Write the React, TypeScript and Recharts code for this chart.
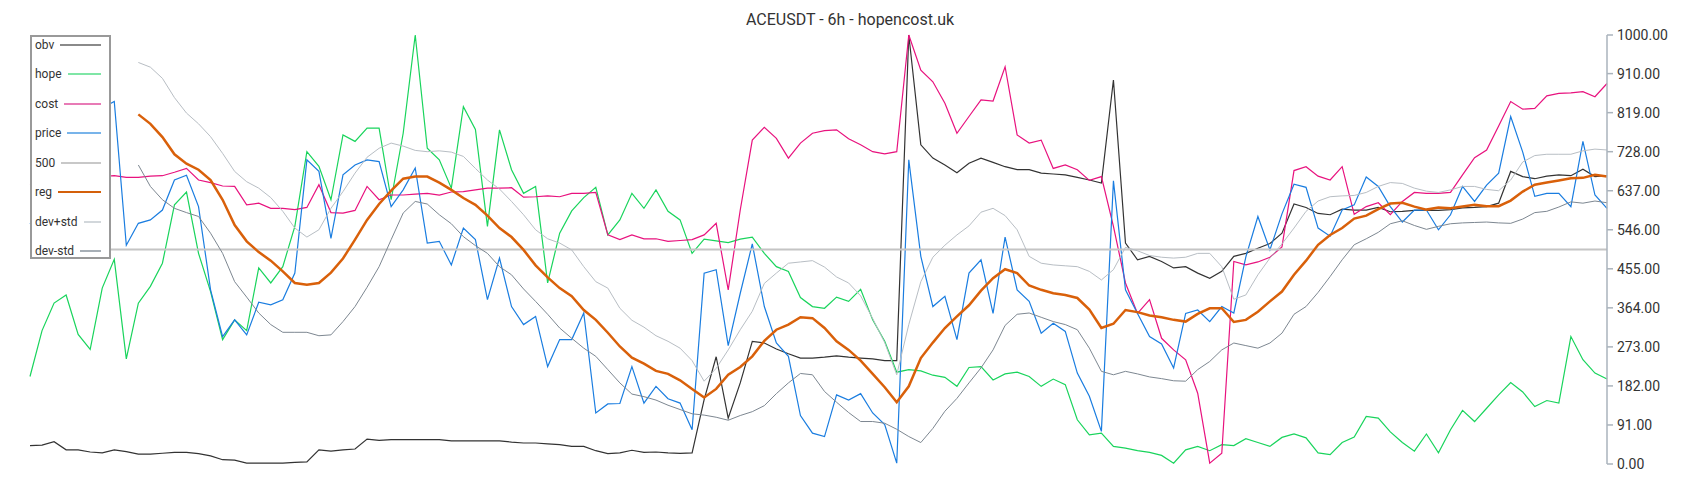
import React from 'react';
import { LineChart, Line, XAxis, YAxis, ReferenceLine } from 'recharts';

const title = 'ACEUSDT - 6h - hopencost.uk';
const yTicks = [0, 91, 182, 273, 364, 455, 546, 637, 728, 819, 910, 1000];
const level500 = 500;

// normalised 0..1000, one value per 6h candle (sampled)
const obv = [
  43, 44, 52, 33, 33, 28, 26, 33, 29, 23, 23, 25, 27, 27, 24, 19, 10,
  9, 2, 2, 2, 2, 4, 5, 33, 30, 33, 35, 58, 55, 57, 57, 57,
  57, 57, 54, 54, 54, 54, 54, 51, 49, 49, 47, 45, 41, 41, 31, 24, 26,
  32, 27, 28, 26, 25, 26, 150, 250, 107, 189, 286, 282, 268, 257, 247, 247,
  249, 252, 249, 247, 245, 241, 241, 1000, 744, 713, 697, 679, 701, 713, 703, 693, 686,
  686, 678, 676, 674, 668, 662, 655, 895, 515, 476, 484, 472, 457, 460, 445, 433, 449,
  484, 491, 503, 514, 538, 606, 598, 584, 581, 594, 592, 592, 598, 588, 589, 591, 592,
  591, 593, 597, 598, 600, 608, 682, 670, 665, 671, 674, 672, 687, 670, 672,
];

const hope = [
  204, 311, 375, 394, 302, 267, 410, 477, 245, 375, 414, 468, 604, 634, 491, 402, 290,
  336, 311, 457, 422, 460, 554, 728, 694, 616, 767, 752, 783, 783, 616, 771, 1000,
  736, 709, 643, 833, 780, 554, 779, 686, 631, 647, 422, 538, 590, 621, 645, 534, 569,
  631, 596, 639, 589, 569, 491, 524, 520, 516, 524, 529, 491, 460, 449, 388, 367,
  363, 389, 379, 407, 336, 286, 214, 220, 217, 207, 202, 181, 225, 227, 196, 210, 214,
  204, 181, 198, 185, 103, 68, 72, 41, 37, 31, 27, 20, 2, 33, 41, 31, 45,
  43, 59, 50, 41, 62, 70, 61, 26, 22, 50, 63, 111, 107, 75, 50, 30, 70,
  26, 80, 125, 99, 130, 161, 190, 168, 134, 148, 142, 297, 243, 212, 198,
];

const cost = [
  650, 655, 660, 662, 665, 668, 670, 672, 668, 668, 671, 672, 680, 689, 662, 656, 648,
  647, 604, 608, 596, 596, 593, 598, 651, 586, 585, 591, 647, 616, 627, 627, 629,
  631, 627, 634, 635, 639, 643, 643, 644, 622, 623, 625, 623, 631, 631, 633, 534, 523,
  534, 525, 525, 519, 521, 523, 534, 561, 406, 592, 755, 785, 759, 713, 748, 771,
  777, 779, 758, 744, 728, 723, 728, 1000, 918, 891, 841, 771, 810, 849, 846, 926, 767,
  748, 755, 689, 697, 686, 661, 670, 554, 422, 351, 383, 293, 266, 243, 165, 2, 25,
  472, 464, 471, 482, 506, 684, 693, 671, 662, 693, 582, 600, 609, 581, 612, 633, 631,
  631, 633, 674, 714, 732, 788, 845, 827, 829, 858, 864, 865, 868, 856, 887,
];

const price = [
  560, 600, 640, 700, 760, 800, 830, 845, 510, 561, 569, 592, 662, 673, 600, 406, 297,
  336, 301, 377, 371, 383, 445, 709, 682, 526, 674, 697, 709, 705, 600, 639, 690,
  515, 519, 464, 550, 523, 383, 480, 367, 325, 344, 227, 290, 290, 352, 119, 140, 141,
  227, 142, 181, 152, 142, 80, 445, 453, 276, 398, 513, 367, 282, 251, 113, 72,
  64, 161, 149, 164, 119, 92, 2, 709, 484, 367, 391, 290, 445, 476, 351, 529, 406,
  379, 305, 328, 309, 212, 158, 76, 660, 406, 351, 297, 280, 224, 351, 359, 332, 367,
  352, 483, 577, 499, 583, 652, 645, 550, 531, 592, 604, 669, 647, 600, 564, 592, 592,
  546, 581, 647, 612, 650, 678, 810, 727, 624, 631, 631, 600, 752, 627, 596,
];

const lead = [null, null, null, null, null, null, null, null, null];

const reg = [
  ...lead,
  815, 793, 762, 722, 700, 686, 662, 616,
  557, 519, 494, 474, 449, 422, 418, 422, 446, 479, 523, 569, 606, 637, 665, 670,
  670, 656, 639, 620, 604, 579, 550, 529, 499, 463, 435, 410, 391, 359, 336, 306, 274,
  248, 234, 217, 210, 195, 175, 155, 175, 208, 226, 251, 287, 313, 325, 342, 340,
  317, 286, 266, 241, 210, 179, 144, 181, 247, 283, 317, 344, 370, 404, 433, 454, 445,
  416, 406, 398, 394, 387, 360, 317, 327, 359, 354, 346, 342, 336, 332, 350, 363, 363,
  331, 336, 355, 379, 402, 441, 474, 511, 534, 550, 572, 579, 594, 607, 609, 600, 593,
  598, 596, 600, 604, 601, 601, 614, 635, 651, 656, 661, 666, 667, 674, 670,
];

const devUp = [
  ...lead,
  936, 925, 899, 854, 818, 793, 763, 724,
  682, 658, 643, 621, 589, 550, 529, 546, 596, 635, 678, 715, 736, 748, 741, 731,
  728, 730, 727, 717, 689, 662, 641, 612, 581, 546, 525, 515, 499, 460, 425, 410, 363,
  335, 319, 299, 286, 270, 241, 193, 223, 266, 313, 356, 421, 445, 468, 471, 474,
  459, 436, 422, 392, 339, 283, 208, 325, 425, 482, 510, 534, 555, 587, 596, 579, 546,
  484, 468, 464, 462, 460, 449, 429, 453, 505, 497, 486, 482, 480, 482, 491, 491, 460,
  384, 394, 441, 480, 513, 550, 589, 613, 623, 625, 626, 633, 647, 656, 654, 643, 636,
  633, 639, 647, 647, 640, 637, 662, 704, 719, 722, 722, 722, 730, 734, 732,
];

const devDown = [
  ...lead,
  697, 647, 616, 596, 586, 577, 538, 491,
  425, 389, 352, 325, 307, 307, 307, 299, 301, 332, 367, 412, 460, 523, 585, 612,
  606, 581, 560, 530, 509, 491, 460, 441, 408, 379, 349, 317, 293, 270, 251, 220, 189,
  163, 157, 149, 137, 127, 117, 114, 109, 102, 113, 122, 136, 164, 189, 211, 208,
  169, 144, 120, 99, 99, 95, 81, 64, 50, 83, 123, 153, 189, 224, 266, 323, 349,
  352, 342, 332, 325, 313, 270, 216, 208, 216, 210, 203, 199, 194, 193, 220, 239, 266,
  282, 276, 270, 282, 305, 349, 367, 400, 437, 476, 511, 525, 540, 560, 567, 556, 547,
  554, 560, 562, 563, 564, 562, 561, 571, 586, 589, 599, 611, 608, 613, 609,
];

const data = obv.map((v, i) => ({
  i,
  obv: v,
  hope: hope[i],
  cost: cost[i],
  price: price[i],
  reg: reg[i],
  devUp: devUp[i],
  devDown: devDown[i],
}));

const legendItems = [
  { name: 'obv', color: '#8a8a8a' },
  { name: 'hope', color: '#7fe6a6' },
  { name: 'cost', color: '#e87bb6' },
  { name: 'price', color: '#78b4ea' },
  { name: '500', color: '#c8c8c8' },
  { name: 'reg', color: '#d4600a' },
  { name: 'dev+std', color: '#d2d7db' },
  { name: 'dev-std', color: '#a7afb6' },
];

const ChartLegend = () => (
  <div
    style={{
      position: 'absolute',
      left: 30,
      top: 35,
      width: 81,
      height: 224,
      boxSizing: 'border-box',
      border: '2px solid #999',
      background: '#fff',
    }}
  >
    {legendItems.map((it, k) => (
      <div
        key={it.name}
        style={{
          position: 'absolute',
          left: 3,
          right: 8,
          top: k * 29.43,
          height: 16,
          display: 'flex',
          alignItems: 'center',
          gap: 6,
          fontSize: 12,
          lineHeight: '16px',
          color: '#333',
        }}
      >
        <span>{it.name}</span>
        <div style={{ flex: 1, height: 2, background: it.color }} />
      </div>
    ))}
  </div>
);

export default function App() {
  return (
    <div
      style={{
        position: 'absolute',
        left: 0,
        top: 0,
        width: 1700,
        height: 500,
        background: '#fff',
        fontFamily: 'Roboto, sans-serif',
      }}
    >
      <div
        style={{
          position: 'absolute',
          left: 0,
          top: 10,
          width: 1700,
          textAlign: 'center',
          fontSize: 16,
          lineHeight: '20px',
          color: '#333',
        }}
      >
        {title}
      </div>
      <LineChart width={1700} height={500} data={data} margin={{ top: 35, right: 0, bottom: 36, left: 30 }}>
        <XAxis dataKey="i" hide />
        <YAxis
          orientation="right"
          width={93}
          domain={[0, 1000]}
          ticks={yTicks}
          interval={0}
          tickFormatter={(v: number) => v.toFixed(2)}
          axisLine={{ stroke: '#aab3bc', strokeWidth: 1.5 }}
          tickLine={{ stroke: '#aab3bc', strokeWidth: 1.5 }}
          tickSize={6}
          tickMargin={4}
          tick={{ fill: '#333', fontSize: 14 }}
        />
        <Line dataKey="obv" stroke="#333333" strokeWidth={1.2} dot={false} isAnimationActive={false} />
        <Line dataKey="hope" stroke="#19d45c" strokeWidth={1.2} dot={false} isAnimationActive={false} />
        <Line dataKey="cost" stroke="#e8127e" strokeWidth={1.2} dot={false} isAnimationActive={false} />
        <Line dataKey="price" stroke="#1a7de0" strokeWidth={1.2} dot={false} isAnimationActive={false} />
        <ReferenceLine y={level500} stroke="#c4c4c4" strokeWidth={2} />
        <Line dataKey="reg" stroke="#d9600a" strokeWidth={2.5} dot={false} isAnimationActive={false} />
        <Line dataKey="devUp" stroke="#b8bec4" strokeWidth={1} dot={false} isAnimationActive={false} />
        <Line dataKey="devDown" stroke="#7d8791" strokeWidth={1} dot={false} isAnimationActive={false} />
      </LineChart>
      <ChartLegend />
    </div>
  );
}
